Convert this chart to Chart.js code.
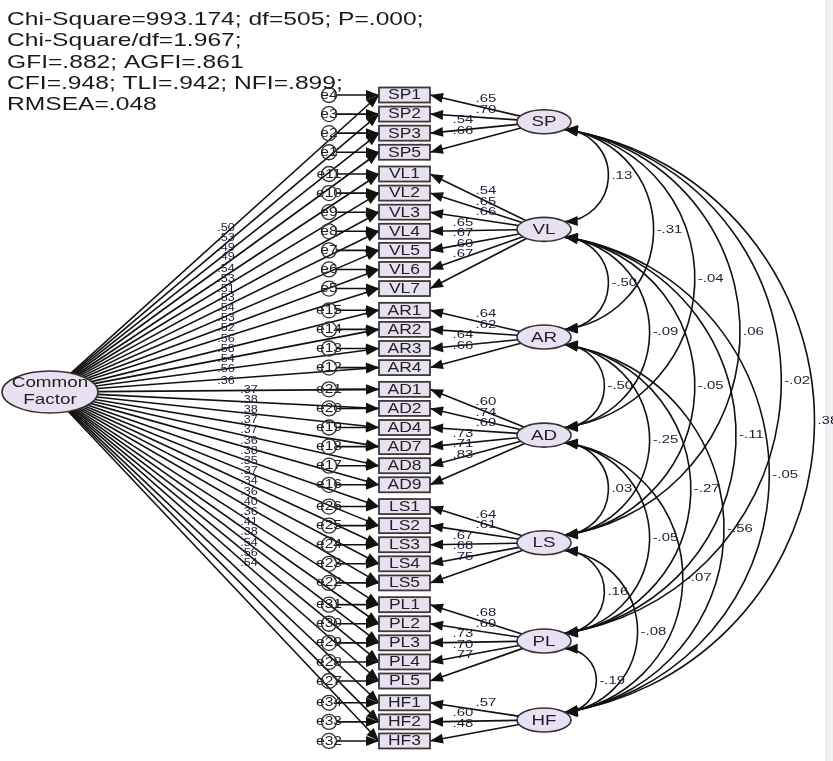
<!DOCTYPE html>
<html>
<head>
<meta charset="utf-8">
<script src="https://cdn.jsdelivr.net/npm/chart.js@4.4.0/dist/chart.umd.min.js"></script>
<style>
  body { margin: 0; background: #fff; }
  #wrap { position: relative; width: 833px; height: 761px; }
</style>
</head>
<body>
<div id="wrap"><canvas id="sem"></canvas></div>
<script>
// fit indices, top left
var fitLines = [
  'Chi-Square=993.174; df=505; P=.000;',
  'Chi-Square/df=1.967;',
  'GFI=.882; AGFI=.861',
  'CFI=.948; TLI=.942; NFI=.899;',
  'RMSEA=.048'
];

var factorNames = ['SP', 'VL', 'AR', 'AD', 'LS', 'PL', 'HF'];
var groupSizes = [4, 7, 4, 6, 5, 5, 3];

var itemNames = ['SP1','SP2','SP3','SP5','VL1','VL2','VL3','VL4','VL5','VL6','VL7',
  'AR1','AR2','AR3','AR4','AD1','AD2','AD4','AD7','AD8','AD9',
  'LS1','LS2','LS3','LS4','LS5','PL1','PL2','PL3','PL4','PL5','HF1','HF2','HF3'];
var errorNames = ['e4','e3','e2','e1','e11','e10','e9','e8','e7','e6','e5',
  'e15','e14','e13','e12','e21','e20','e19','e18','e17','e16',
  'e26','e25','e24','e23','e22','e31','e30','e29','e28','e27','e34','e33','e32'];

// standardized loadings on own factor
var factorLoadings = [.65,.70,.54,.66, .54,.65,.66,.65,.67,.60,.67, .64,.62,.64,.66,
  .60,.74,.69,.73,.71,.83, .64,.61,.67,.68,.75, .68,.69,.73,.70,.77, .57,.60,.48];
// loadings on the common method factor
var commonLoadings = [.50,.53,.49,.49, .54,.53,.51,.53,.54,.53,.52, .56,.58,.54,.56,
  .36,.37,.38,.38,.37,.37, .36,.38,.35,.37,.34, .36,.40,.36,.41,.38, .54,.56,.54];
// factor correlations: SP-VL, SP-AR ... SP-HF, VL-AR ... PL-HF
var corrValues = [.13,-.31,-.04,.06,-.02,.38, -.50,-.09,-.05,-.11,-.05,
  -.50,-.25,-.27,-.56, .03,-.05,-.07, .16,-.08, -.19];

// layout
var SX = 1.3;                 // the source picture is stretched sideways
var ERR_X = 329, BOX_X = 404.5, FAC_X = 544, CF_X = 50;
var BOX_W = 51, BOX_H = 15, ERR_R = 7.5;
var FAC_RX = 27, FAC_RY = 12, CF_RX = 48, CF_RY = 21;
var GAP = 0.14, CF_ROW = 15.56;
var INK = '#111', NUM = '#1e1e38', FILL = '#e9e1f2';

var itemRow = [], itemGroup = [];
(function () {
  var k = 0;
  groupSizes.forEach(function (n, g) {
    for (var i = 0; i < n; i++) { itemRow.push(k + g * GAP); itemGroup.push(g); k++; }
  });
})();
var factorRow = groupSizes.map(function (n, g) {
  var rows = itemRow.filter(function (r, i) { return itemGroup[i] === g; });
  return (rows[0] + rows[rows.length - 1]) / 2 - 0.1;
});

function fmt(v) {
  return (v < 0 ? '-' : '') + Math.abs(v).toFixed(2).replace(/^0/, '');
}

function txt(c, s, x, y, size, align, sx) {
  c.save();
  c.translate(x, y);
  c.scale(sx || SX, 1);
  c.font = size + 'px "Liberation Sans", Arial, sans-serif';
  c.textAlign = align || 'center';
  c.textBaseline = 'middle';
  c.fillText(s, 0, 0);
  c.restore();
}

function head(c, tx, ty, dx, dy) {
  var L = Math.hypot(dx, dy), len = 13, hw = 5;
  dx /= L; dy /= L;
  var bx = tx - dx * len, by = ty - dy * len;
  c.beginPath();
  c.moveTo(tx, ty);
  c.lineTo(bx - dy * hw, by + dx * hw);
  c.lineTo(bx + dy * hw, by - dx * hw);
  c.closePath();
  c.fill();
}

function arrow(c, x1, y1, x2, y2) {
  c.beginPath(); c.moveTo(x1, y1); c.lineTo(x2, y2); c.stroke();
  head(c, x2, y2, x2 - x1, y2 - y1);
}

function edge(cx, cy, rx, ry, tx, ty) {
  var dx = tx - cx, dy = ty - cy;
  var t = 1 / Math.sqrt(dx * dx / (rx * rx) + dy * dy / (ry * ry));
  return [cx + dx * t, cy + dy * t];
}

function ellipse(c, x, y, rx, ry) {
  c.beginPath();
  c.ellipse(x, y, rx, ry, 0, 0, Math.PI * 2);
  c.fillStyle = FILL; c.fill();
  c.lineWidth = 1.6; c.strokeStyle = '#333'; c.stroke();
}

var semPlugin = {
  id: 'sem',
  beforeDatasetsDraw: function (chart) {
    var c = chart.ctx, xs = chart.scales.x, ys = chart.scales.y;
    c.save();
    c.fillStyle = '#f0f0f0';
    c.fillRect(xs.getPixelForValue(825), 0, chart.width, chart.height);
    c.strokeStyle = INK; c.fillStyle = INK; c.lineWidth = 1.6;

    var boxL = xs.getPixelForValue(BOX_X) - BOX_W / 2;
    var boxR = xs.getPixelForValue(BOX_X) + BOX_W / 2;
    var cfx = xs.getPixelForValue(CF_X), cfy = ys.getPixelForValue(CF_ROW);
    var fx = xs.getPixelForValue(FAC_X);

    itemRow.forEach(function (r, i) {
      var y = ys.getPixelForValue(r);
      // error term
      arrow(c, xs.getPixelForValue(ERR_X) + ERR_R, y, boxL, y);
      // common factor
      var s = edge(cfx, cfy, CF_RX, CF_RY, boxL, y);
      arrow(c, s[0], s[1], boxL, y);
      // own factor
      var fy = ys.getPixelForValue(factorRow[itemGroup[i]]);
      var f = edge(fx, fy, FAC_RX, FAC_RY, boxR, y);
      arrow(c, f[0], f[1], boxR, y);
    });

    // covariance arcs on the right
    var ang = 40 * Math.PI / 180;
    var k = 0;
    chart._arcLabels = [];
    for (var i = 0; i < factorNames.length; i++) {
      for (var j = i + 1; j < factorNames.length; j++) {
        var y1 = ys.getPixelForValue(factorRow[i]) + FAC_RY * Math.sin(ang);
        var y2 = ys.getPixelForValue(factorRow[j]) - FAC_RY * Math.sin(ang);
        var x0 = fx + FAC_RX * Math.cos(ang);
        var L = y2 - y1, sag = 0.42 * L + 5;
        var R = (L * L / 4 + sag * sag) / (2 * sag);
        var cx = x0 + sag - R, cy = (y1 + y2) / 2;
        var a1 = Math.atan2(y1 - cy, x0 - cx), a2 = Math.atan2(y2 - cy, x0 - cx);
        c.beginPath();
        c.arc(cx, cy, R, a1, a2, false);
        c.stroke();
        head(c, x0, y1, Math.sin(a1), -Math.cos(a1));
        head(c, x0, y2, -Math.sin(a2), Math.cos(a2));
        chart._arcLabels[k] = [x0 + sag + 3, cy];
        k++;
      }
    }
    c.restore();
  },
  afterDatasetsDraw: function (chart) {
    var c = chart.ctx, xs = chart.scales.x, ys = chart.scales.y;
    c.save();
    var bx = xs.getPixelForValue(BOX_X);
    var fx = xs.getPixelForValue(FAC_X);
    var cfx = xs.getPixelForValue(CF_X), cfy = ys.getPixelForValue(CF_ROW);

    // observed variables
    itemRow.forEach(function (r, i) {
      var y = ys.getPixelForValue(r);
      c.fillStyle = FILL;
      c.fillRect(bx - BOX_W / 2, y - BOX_H / 2, BOX_W, BOX_H);
      c.lineWidth = 1.8; c.strokeStyle = '#3a3a3a';
      c.strokeRect(bx - BOX_W / 2, y - BOX_H / 2, BOX_W, BOX_H);
      c.fillStyle = '#222';
      txt(c, itemNames[i], bx, y + 0.5, 14, 'center', 1.25);
      txt(c, errorNames[i], xs.getPixelForValue(ERR_X), y, 13, 'center', 1.2);
    });

    // latent factors
    factorNames.forEach(function (name, g) {
      var fy = ys.getPixelForValue(factorRow[g]);
      ellipse(c, fx, fy, FAC_RX, FAC_RY);
      c.fillStyle = '#222';
      txt(c, name, fx, fy + 0.5, 15, 'center', 1.25);
    });
    ellipse(c, cfx, cfy, CF_RX, CF_RY);
    c.fillStyle = '#222';
    txt(c, 'Common', cfx, cfy - 9, 14.5);
    txt(c, 'Factor', cfx, cfy + 8, 14.5);

    // loading labels, stacked beside each factor
    c.fillStyle = NUM;
    var start = 0;
    groupSizes.forEach(function (n, g) {
      var fy = ys.getPixelForValue(factorRow[g]);
      for (var i = 0; i < n; i++) {
        var ly = fy - 7 - (n - 1) * 5.25 + i * 10.5;
        var lx = i < Math.floor(n / 2) ? fx - 58 : fx - 81;
        txt(c, fmt(factorLoadings[start + i]), lx, ly, 11.5);
      }
      start += n;
    });

    // common factor labels
    itemRow.forEach(function (r, i) {
      var yb = ys.getPixelForValue(r);
      var ly = cfy + 0.519 * (yb - cfy) - 10;
      var lx = yb < cfy + 2 ? 226 : 249;
      txt(c, fmt(commonLoadings[i]), lx, ly, 10.5, 'center', 1.2);
    });

    // covariance labels
    chart._arcLabels.forEach(function (p, k) {
      txt(c, fmt(corrValues[k]), p[0], p[1], 11.5, 'left');
    });

    // fit statistics
    c.fillStyle = '#1a1a1a';
    fitLines.forEach(function (s, i) {
      c.save();
      c.translate(7, 25 + i * 21.3);
      c.scale(1.33, 1);
      c.font = '18.5px "Liberation Sans", Arial, sans-serif';
      c.textAlign = 'left';
      c.textBaseline = 'alphabetic';
      c.fillText(s, 0, 0);
      c.restore();
    });
    c.restore();
  }
};

var ctx = document.getElementById('sem').getContext('2d');
var chart = new Chart(ctx, {
  type: 'scatter',
  data: {
    datasets: [{
      label: 'errors',
      data: itemRow.map(function (r) { return { x: ERR_X, y: r }; }),
      pointStyle: 'circle',
      pointRadius: ERR_R,
      borderColor: '#333',
      borderWidth: 1.3,
      backgroundColor: 'rgba(0,0,0,0)'
    }]
  },
  options: {
    responsive: true,
    maintainAspectRatio: false,
    animation: false,
    events: [],
    layout: { padding: 0, autoPadding: false },
    plugins: { legend: { display: false }, tooltip: { enabled: false } },
    scales: {
      x: { type: 'linear', min: 0, max: 833, display: false },
      y: { type: 'linear', min: -4.976, max: 34.89, reverse: true, display: false }
    }
  },
  plugins: [semPlugin]
});
</script>
</body>
</html>
